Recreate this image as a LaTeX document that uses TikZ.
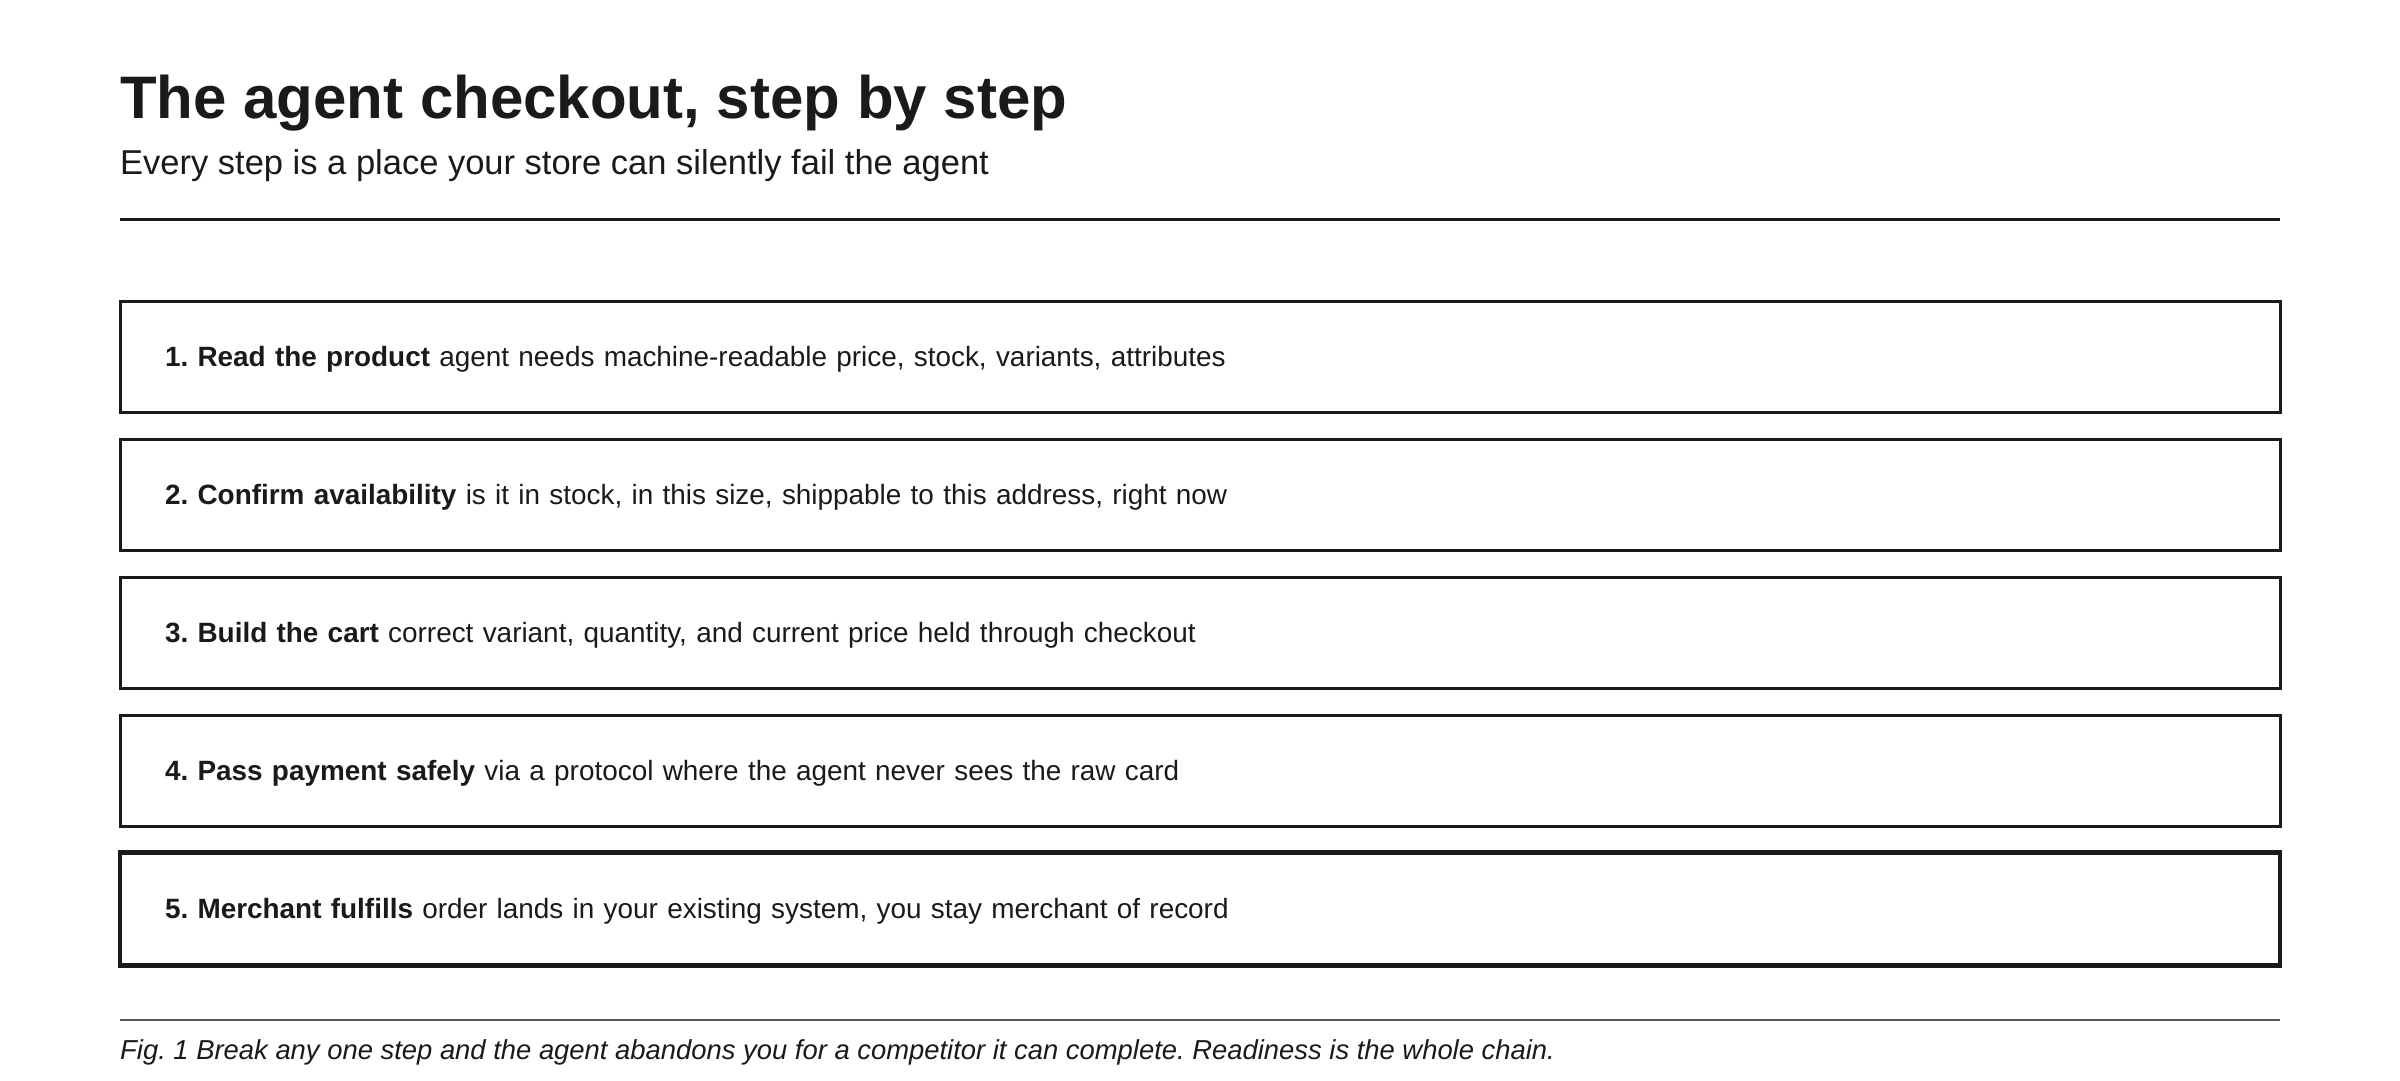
\documentclass[tikz,border=0pt]{standalone}
\usepackage{fontspec}
\setmainfont{Liberation Sans}
\usepackage{tikz}
\usetikzlibrary{positioning}
\definecolor{ink}{HTML}{1A1A1A}
\definecolor{rulegray}{HTML}{555555}
\frenchspacing

\begin{document}
\begin{tikzpicture}[x=1pt, y=-1pt,
        stepbox/.style={draw=ink, line width=3pt, fill=white, text=ink, minimum height=111pt, inner ysep=0pt, inner xsep=45pt, text width=2070pt, align=left, text height=19.4pt, text depth=0pt, font=\fontsize{27.9}{34}\selectfont},
        laststep/.style={stepbox, line width=4.5pt, minimum height=113pt}]
        \fill[white] (0, 0) rectangle (2400, 1080);
        \useasboundingbox (0, 0) rectangle (2400, 1080);
        \node[anchor=base west, inner sep=0pt, text=ink, font=\fontsize{60}{72}\selectfont\bfseries] (title) at (120, 118) {The agent checkout, step by step};
        \node[anchor=base west, inner sep=0pt, text=ink, font=\fontsize{34.5}{41}\selectfont] (subtitle) at (120, 174) {Every step is a place your store can silently fail the agent};
        \coordinate (topL) at (120, 219);
        \coordinate (topR) at (2280, 219);
        \draw[ink, line width=3pt] (topL) -- (topR);
        \node[stepbox] (read) at (1200, 357) {\textbf{1. Read the product} agent needs machine-readable price, stock, variants, attributes};
        \node[stepbox] (confirm) at (1200, 494.9) {\textbf{2. Confirm availability} is it in stock, in this size, shippable to this address, right now};
        \node[stepbox] (cart) at (1200, 632.8) {\textbf{3. Build the cart} correct variant, quantity, and current price held through checkout};
        \node[stepbox] (pay) at (1200, 770.7) {\textbf{4. Pass payment safely} via a protocol where the agent never sees the raw card};
        \node[laststep] (fulfil) at (1200, 908.8) {\textbf{5. Merchant fulfills} order lands in your existing system, you stay merchant of record};
        \coordinate (botL) at (120, 1020);
        \coordinate (botR) at (2280, 1020);
        \draw[rulegray, line width=2pt] (botL) -- (botR);
        \node[anchor=base west, inner sep=0pt, text=ink, font=\fontsize{27.4}{33}\selectfont\itshape] (caption) at (120, 1059) {Fig. 1 Break any one step and the agent abandons you for a competitor it can complete. Readiness is the whole chain.};
      \end{tikzpicture}
\end{document}
